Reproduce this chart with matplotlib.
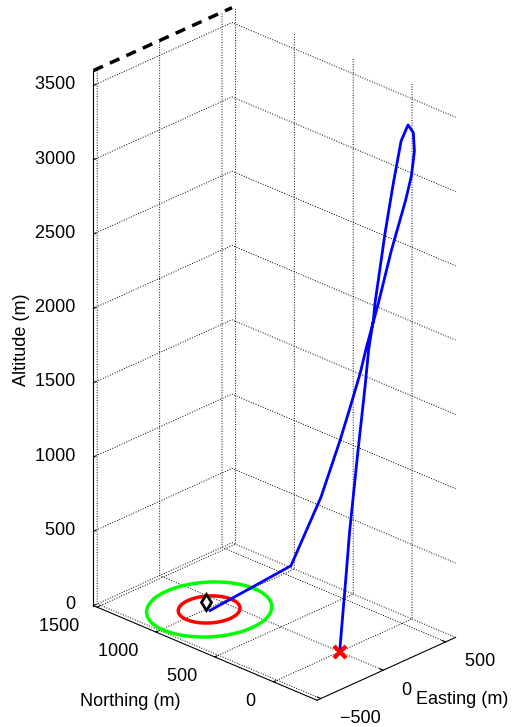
import numpy as np
import matplotlib
matplotlib.use("Agg")
import matplotlib.pyplot as plt

plt.rcParams['font.family'] = ['Liberation Sans', 'DejaVu Sans']
plt.rcParams['font.size'] = 13

# === Données ===
# trajectoire (montée puis descente), Easting / Northing / Altitude en m
traj_e = [0, 1, 1, 15, 30, 36, 55, 56, 92, 126, 163, 210,
          260, 288, 292, 282, 244, 215, 193, 192, 187, 182, 190, 194, -124]
traj_n = [0, -51, -84, -137, -180, -209, -229, -240, -287, -321, -349, -358,
          -350, -330, -300, -260, -180, -100, -20, 30, 110, 190, 360, 620, 970]
traj_z = [0, 507, 841, 1371, 1804, 2094, 2294, 2399, 2872, 3206, 3491, 3585,
          3512, 3371, 3191, 3014, 2666, 2294, 1973, 1789, 1535, 1289, 848, 297, 0]

# zone cible (cercles au sol)
cible_e, cible_n = -118, 984
rayons = [365, 180]
couleurs_cercles = ["#00ff00", "red"]

# marqueurs
losange = (-65, 1066, 0)
depart = (0, 0, 0)

# ligne pointillée du haut
haut_e = [-530, 580]
haut_n = [1530, 1530]
haut_z = [3600, 3600]

lim_e = (-530, 580)
lim_n = (-370, 1530)
lim_z = (0, 3600)
ticks_e = [-500, 0, 500]
ticks_n = [0, 500, 1000, 1500]
ticks_z = list(range(0, 3501, 500))

# === Figure ===
fig = plt.figure(figsize=(5.13, 7.27), dpi=100)
# axes carré plus grand que la figure (mplot3d force un carré)
ax = fig.add_axes([-0.2056, -0.0096, 1.4425, 1.0179], projection="3d", proj_type="ortho")
ax.view_init(elev=26, azim=-136)
ax.set_box_aspect((197, 307, 588), zoom=0.919)

t = np.linspace(0, 2 * np.pi, 200)
for r, c in zip(rayons, couleurs_cercles):
    ax.plot(cible_e + r * np.cos(t), cible_n + r * np.sin(t), np.zeros_like(t),
            color=c, lw=2.5)

ax.plot(traj_e, traj_n, traj_z, color="blue", lw=2)
ax.plot(haut_e, haut_n, haut_z, "k--", lw=2.5, dashes=(3, 2.2))
ax.plot([losange[0]], [losange[1]], [losange[2]], "kd", ms=8, mew=2, mfc="white")
ax.plot([depart[0]], [depart[1]], [depart[2]], "rx", ms=9, mew=3)

ax.set_xlim(lim_e)
ax.set_ylim(lim_n)
ax.set_zlim(lim_z)
ax.set_xticks(ticks_e, ["   " + f"{v:g}".replace("-", "\u2212") for v in ticks_e])
ax.set_yticks(ticks_n, [f"{v:g}" + "   " for v in ticks_n])
ax.set_zticks(ticks_z, [f"{v:g}" + "  " for v in ticks_z])
ax.tick_params(axis="x", pad=-3)
ax.tick_params(axis="y", pad=-3)
ax.tick_params(axis="z", pad=-2)
for lbl in ax.get_xticklabels():
    lbl.set_horizontalalignment("left")
for lbl in ax.get_yticklabels():
    lbl.set_horizontalalignment("right")
for lbl in ax.get_zticklabels():
    lbl.set_horizontalalignment("right")
    lbl.set_verticalalignment("center")

for axis in (ax.xaxis, ax.yaxis, ax.zaxis):
    axis.set_pane_color((1, 1, 1, 0))
    axis.pane.set_edgecolor("none")
    axis.line.set_color("black")
    axis.line.set_linewidth(0.8)
    axis._axinfo["grid"].update(color="black", linestyle=":", linewidth=0.7)
    axis._axinfo["tick"]["inward_factor"] = 0.0
    axis._axinfo["tick"]["outward_factor"] = 0.2

# titres d'axes (horizontaux comme dans l'original)
fig.text(130 / 513, 1 - 701 / 727, "Northing (m)", ha="center", va="center")
fig.text(462 / 513, 1 - 699 / 727, "Easting (m)", ha="center", va="center")
fig.text(22 / 513, 1 - 340 / 727, "Altitude (m)", ha="center", va="center", rotation=90)

plt.savefig("out.png", dpi=100)
